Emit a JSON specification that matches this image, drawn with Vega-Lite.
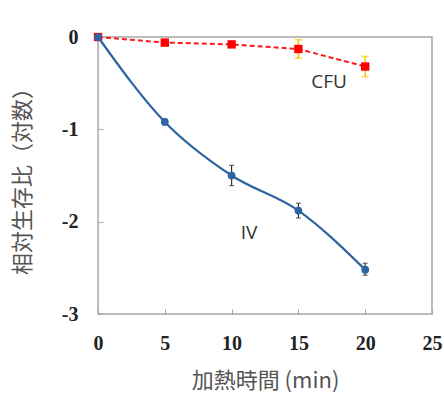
{
  "$schema": "https://vega.github.io/schema/vega-lite/v6.json",
  "width": 334,
  "height": 277,
  "autosize": {"type": "none"},
  "padding": {"left": 98, "top": 37, "right": 12, "bottom": 85},
  "background": "white",
  "config": {
    "view": {"stroke": "#a6a6a6", "strokeWidth": 1.5},
    "axis": {"grid": false, "domain": false}
  },
  "data": {
    "values": [
      {"series": "IV", "t": 0, "v": 0, "lo": 0, "hi": 0},
      {"series": "IV", "t": 5, "v": -0.92, "lo": -0.95, "hi": -0.89},
      {"series": "IV", "t": 10, "v": -1.5, "lo": -1.61, "hi": -1.39},
      {"series": "IV", "t": 15, "v": -1.88, "lo": -1.96, "hi": -1.8},
      {"series": "IV", "t": 20, "v": -2.52, "lo": -2.58, "hi": -2.45},
      {"series": "CFU", "t": 0, "v": 0, "lo": 0, "hi": 0},
      {"series": "CFU", "t": 5, "v": -0.06, "lo": -0.1, "hi": -0.03},
      {"series": "CFU", "t": 10, "v": -0.08, "lo": -0.1, "hi": -0.06},
      {"series": "CFU", "t": 15, "v": -0.13, "lo": -0.23, "hi": -0.03},
      {"series": "CFU", "t": 20, "v": -0.32, "lo": -0.43, "hi": -0.21}
    ]
  },
  "encoding": {
    "x": {
      "field": "t", "type": "quantitative",
      "scale": {"domain": [0, 25], "nice": false, "zero": false},
      "axis": {
        "values": [0, 5, 10, 15, 20, 25],
        "title": "加熱時間 (min)",
        "titleFont": "Noto Sans CJK JP", "titleFontSize": 22, "titleFontWeight": "normal", "titleColor": "#555555",
        "titlePadding": 17,
        "labelFont": "Liberation Serif", "labelFontSize": 20, "labelFontWeight": "bold", "labelColor": "#222222",
        "labelPadding": 24,
        "tickSize": -5, "tickColor": "#a6a6a6", "tickWidth": 1,
        "labelFlush": false
      }
    },
    "y": {
      "field": "v", "type": "quantitative",
      "scale": {"domain": [-3, 0], "nice": false, "zero": false},
      "axis": {
        "values": [0, -1, -2, -3],
        "labelExpr": "replace(datum.label, '−', '-')",
        "title": "相対生存比（対数）",
        "titleFont": "Noto Sans CJK JP", "titleFontSize": 22, "titleFontWeight": "normal", "titleColor": "#555555",
        "titlePadding": 27,
        "labelFont": "Liberation Serif", "labelFontSize": 20, "labelFontWeight": "bold", "labelColor": "#222222",
        "labelPadding": 25,
        "tickSize": -5, "tickColor": "#a6a6a6", "tickWidth": 1,
        "labelFlush": false
      }
    }
  },
  "layer": [
    {
      "transform": [{"filter": "datum.series === 'CFU'"}],
      "mark": {"type": "rule", "color": "#ffc000", "strokeWidth": 1.5},
      "encoding": {"y": {"field": "lo", "type": "quantitative"}, "y2": {"field": "hi"}}
    },
    {
      "transform": [{"filter": "datum.series === 'CFU'"}],
      "layer": [
        {"mark": {"type": "tick", "color": "#ffc000", "size": 7, "thickness": 1.5, "orient": "horizontal"}, "encoding": {"y": {"field": "lo", "type": "quantitative"}}},
        {"mark": {"type": "tick", "color": "#ffc000", "size": 7, "thickness": 1.5, "orient": "horizontal"}, "encoding": {"y": {"field": "hi", "type": "quantitative"}}}
      ]
    },
    {
      "transform": [{"filter": "datum.series === 'CFU'"}],
      "mark": {"type": "line", "color": "#ff1a1a", "strokeWidth": 2, "strokeDash": [5, 3]},
      "encoding": {}
    },
    {
      "transform": [{"filter": "datum.series === 'CFU'"}],
      "mark": {"type": "square", "color": "#ff0000", "size": 70, "opacity": 1},
      "encoding": {}
    },
    {
      "transform": [{"filter": "datum.series === 'IV'"}],
      "mark": {"type": "rule", "color": "#333333", "strokeWidth": 1.2},
      "encoding": {"y": {"field": "lo", "type": "quantitative"}, "y2": {"field": "hi"}}
    },
    {
      "transform": [{"filter": "datum.series === 'IV'"}],
      "layer": [
        {"mark": {"type": "tick", "color": "#333333", "size": 5, "thickness": 1.2, "orient": "horizontal"}, "encoding": {"y": {"field": "lo", "type": "quantitative"}}},
        {"mark": {"type": "tick", "color": "#333333", "size": 5, "thickness": 1.2, "orient": "horizontal"}, "encoding": {"y": {"field": "hi", "type": "quantitative"}}}
      ]
    },
    {
      "transform": [{"filter": "datum.series === 'IV'"}],
      "mark": {"type": "line", "color": "#2e64a0", "strokeWidth": 2.2, "interpolate": "monotone"},
      "encoding": {}
    },
    {
      "transform": [{"filter": "datum.series === 'IV'"}],
      "mark": {"type": "circle", "color": "#2e64a0", "size": 60, "opacity": 1},
      "encoding": {}
    },
    {
      "data": {"values": [{"label": "CFU", "lt": 17.3, "lv": -0.49}, {"label": "IV", "lt": 11.3, "lv": -2.12}]},
      "mark": {"type": "text", "font": "Open Sans", "fontSize": 19, "color": "#333333"},
      "encoding": {
        "x": {"field": "lt", "type": "quantitative"},
        "y": {"field": "lv", "type": "quantitative"},
        "text": {"field": "label"}
      }
    }
  ]
}
